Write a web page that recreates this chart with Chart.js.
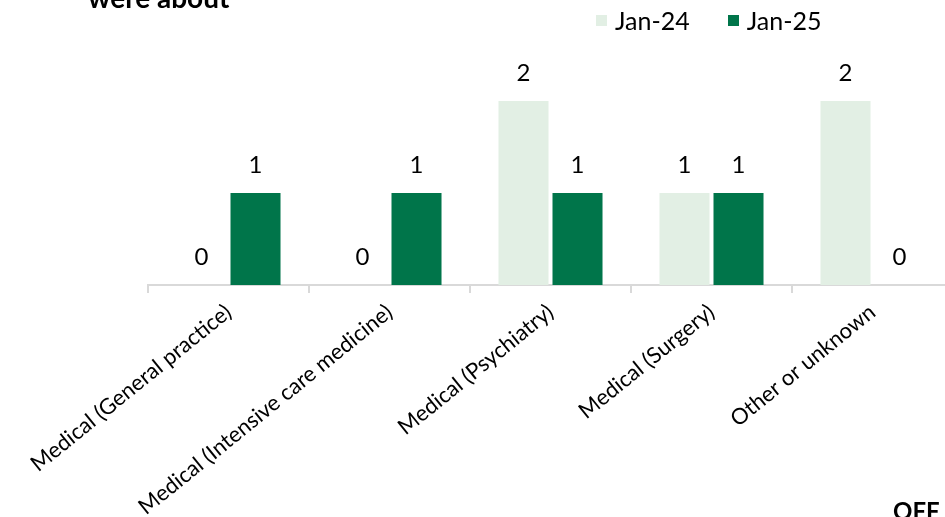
<!DOCTYPE html>
<html>
<head>
<meta charset="utf-8">
<script src="https://cdn.jsdelivr.net/npm/chart.js@4.4.1/dist/chart.umd.min.js"></script>
<style>
  body { margin: 0; overflow: hidden; background: #fff; font-family: Lato, sans-serif; }
  #wrap { position: relative; width: 960px; height: 517px; }
  #title { position: absolute; left: 88px; top: -17px; font: bold 28px/1 Lato, sans-serif; color: #000; white-space: nowrap; }
  #brand { position: absolute; left: 893px; top: 499px; font: bold 24px/1 Lato, sans-serif; color: #000; }
  #legend { position: absolute; left: 596px; top: 6px; display: flex; align-items: center; font: 25px/28px Lato, sans-serif; color: #000; }
  #legend .item { display: flex; align-items: center; margin-right: 38px; }
  #legend .box { width: 11px; height: 11px; margin-right: 8px; }
</style>
</head>
<body>
<div id="wrap">
  <canvas id="myChart"></canvas>
  <div id="title">were about</div>
  <div id="legend"></div>
  <div id="brand">OFF</div>
</div>
<script>
// categories + values
const categories = [
  "Medical (General practice)",
  "Medical (Intensive care medicine)",
  "Medical (Psychiatry)",
  "Medical (Surgery)",
  "Other or unknown",
];
const jan24 = [0, 0, 2, 1, 2];
const jan25 = [1, 1, 1, 1, 0];
const seriesNames = ["Jan-24", "Jan-25"];
const seriesColors = ["#e2efe4", "#00754a"];

// numbers above the bars
const valueLabels = {
  id: "valueLabels",
  afterDatasetsDraw(chart) {
    let ctx = chart.ctx;
    ctx.save();
    ctx.font = "24px Lato";
    ctx.fillStyle = "#000";
    ctx.textAlign = "center";
    ctx.textBaseline = "alphabetic";
    chart.data.datasets.forEach(function (ds, i) {
      chart.getDatasetMeta(i).data.forEach(function (bar, j) {
        ctx.fillText(ds.data[j], bar.x, bar.y - 20);
      });
    });
    ctx.restore();
  },
};

let mychart = document.getElementById("myChart").getContext("2d");
let barChart = new Chart(mychart, {
  type: "bar",
  data: {
    labels: categories,
    datasets: [
      { label: seriesNames[0], data: jan24, backgroundColor: seriesColors[0] },
      { label: seriesNames[1], data: jan25, backgroundColor: seriesColors[1] },
    ],
  },
  options: {
    responsive: true,
    maintainAspectRatio: false,
    animation: false,
    layout: { padding: { left: 148, right: 7, top: 55, bottom: 0 } },
    datasets: { bar: { categoryPercentage: 0.671, barPercentage: 0.926 } },
    plugins: {
      legend: { display: false },
      tooltip: { enabled: false },
    },
    scales: {
      x: {
        afterFit: function (scale) {
          scale.height = 232;
        },
        grid: {
          drawOnChartArea: false,
          drawTicks: true,
          tickLength: 8,
          color: "#d9d9d9",
          lineWidth: 2,
        },
        border: { color: "#d9d9d9", width: 2 },
        ticks: {
          autoSkip: false,
          minRotation: 39,
          maxRotation: 39,
          padding: 6,
          color: "#000",
          font: { family: "Lato", size: 22 },
        },
      },
      y: {
        display: false,
        min: 0,
        max: 2.5,
      },
    },
  },
  plugins: [valueLabels],
});

// legend in html so it can sit where the original one is
let legendEl = document.getElementById("legend");
barChart.data.datasets.forEach(function (ds) {
  let item = document.createElement("div");
  item.className = "item";
  let box = document.createElement("span");
  box.className = "box";
  box.style.background = ds.backgroundColor;
  let txt = document.createElement("span");
  txt.textContent = ds.label;
  item.appendChild(box);
  item.appendChild(txt);
  legendEl.appendChild(item);
});
</script>
</body>
</html>
